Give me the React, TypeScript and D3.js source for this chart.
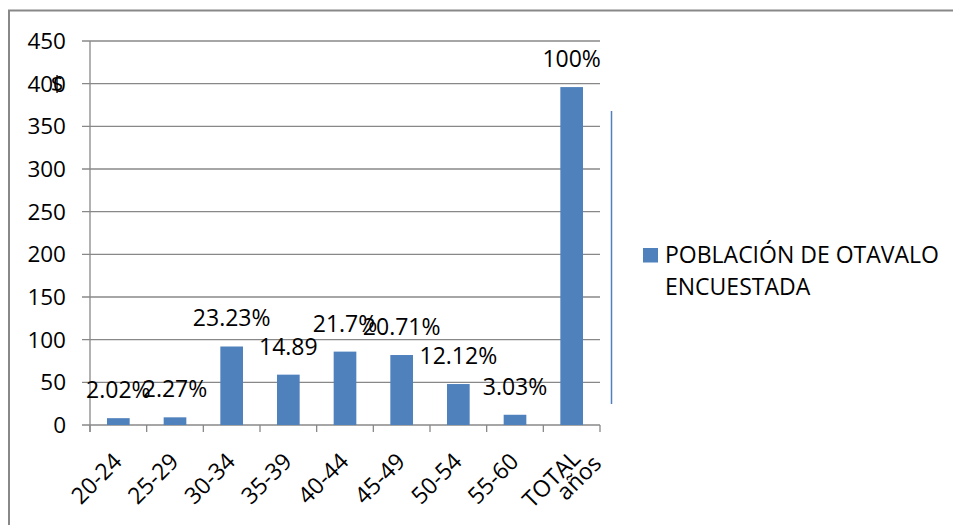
import React from "react";
import * as d3 from "d3";

const categories = ["20-24", "25-29", "30-34", "35-39", "40-44", "45-49", "50-54", "55-60", "TOTAL"];
const values = [8, 9, 92, 59, 86, 82, 48, 12, 396];
const valueLabels = ["2.02%", "2.27%", "23.23%", "14.89", "21.7%", "20.71%", "12.12%", "3.03%", "100%"];
const yTicks = [0, 50, 100, 150, 200, 250, 300, 350, 400, 450];
const legendLines = ["POBLACIÓN DE OTAVALO", "ENCUESTADA"];
const totalSecondLine = "años";

const W = 953;
const H = 525;
const FONT = "'Open Sans', 'Noto Sans', sans-serif";
const BAR = "#4F81BD";
const GRID = "#888888";
const FS = 23;

export default function App() {
  const x = d3.scaleBand<string>().domain(categories).range([90, 600]).padding(0);
  const y = d3.scaleLinear().domain([0, 450]).range([425, 41]);
  const bw = x.bandwidth() * 0.4;
  const boundaries = d3.range(categories.length + 1).map((i) => 90 + i * x.bandwidth());

  return (
    <svg
      width={W}
      height={H}
      style={{ position: "absolute", left: 0, top: 0, background: "#fff" }}
      fontFamily={FONT}
    >
      <rect x={0} y={0} width={W} height={H} fill="#fff" />
      {/* outer frame */}
      <line x1={8} y1={10.5} x2={W} y2={10.5} stroke={GRID} strokeWidth={2} />
      <line x1={9} y1={10} x2={9} y2={H} stroke={GRID} strokeWidth={2} />

      {/* gridlines & y ticks */}
      {yTicks.map((t) => (
        <g key={t}>
          <line x1={82} x2={600} y1={y(t)} y2={y(t)} stroke={GRID} strokeWidth={1.3} />
          <text x={66} y={y(t) + 8} textAnchor="end" fontSize={22.5} fill="#000">
            {t}
          </text>
        </g>
      ))}
      <text x={57} y={91} textAnchor="middle" fontSize={22} fill="#000">$</text>

      {/* axes */}
      <line x1={90} x2={90} y1={41} y2={432} stroke={GRID} strokeWidth={1.3} />
      {boundaries.map((b, i) => (
        <line key={i} x1={b} x2={b} y1={425} y2={432} stroke={GRID} strokeWidth={1.3} />
      ))}

      {/* bars */}
      {categories.map((c, i) => {
        const cx = (x(c) as number) + x.bandwidth() / 2;
        return (
          <g key={c}>
            <rect x={cx - bw / 2} y={y(values[i])} width={bw} height={425 - y(values[i])} fill={BAR} />
            <text x={cx} y={y(values[i]) - 20} textAnchor="middle" fontSize={FS} fill="#000">
              {valueLabels[i]}
            </text>
          </g>
        );
      })}

      {/* x labels */}
      {categories.map((c, i) => {
        const cx = (x(c) as number) + x.bandwidth() / 2;
        if (i === categories.length - 1) {
          return (
            <g key={c}>
              <text transform={`translate(${cx + 10},${460}) rotate(-45)`} textAnchor="end" fontSize={FS} fill="#000">
                {c}
              </text>
              <text transform={`translate(${cx + 31},${465}) rotate(-45)`} textAnchor="end" fontSize={FS} fill="#000">
                {totalSecondLine}
              </text>
            </g>
          );
        }
        return (
          <text key={c} transform={`translate(${cx + 5},${463}) rotate(-45)`} textAnchor="end" fontSize={FS} fill="#000">
            {c}
          </text>
        );
      })}

      {/* legend */}
      <line x1={611.5} x2={611.5} y1={111} y2={404} stroke={BAR} strokeWidth={1.5} />
      <rect x={643} y={248} width={15} height={14.5} fill={BAR} />
      {legendLines.map((l, i) => (
        <text key={i} x={665} y={263 + i * 32} fontSize={FS} fill="#000">
          {l}
        </text>
      ))}
    </svg>
  );
}
